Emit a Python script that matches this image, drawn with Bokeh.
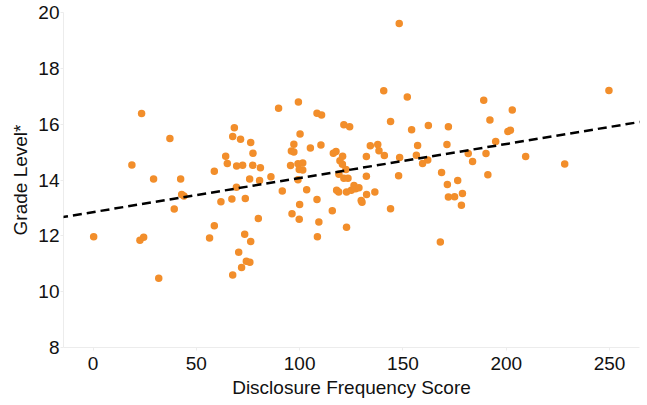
from bokeh.plotting import figure
from bokeh.models import ColumnDataSource, FixedTicker, Slope, Range1d
from bokeh.embed import file_html
from bokeh.resources import INLINE

# Data
disclosure_score = [
    0.3, 18.8, 22.7, 24.5, 23.5, 29.3, 31.8, 37.2, 39.3, 42.4, 42.9, 44.0,
    56.4, 58.7, 58.7, 61.9, 64.2, 65.0, 67.2, 67.6, 67.6, 68.4, 69.4, 69.5,
    70.5, 71.4, 71.9, 72.4, 73.4, 73.7, 74.2, 75.8, 75.9, 76.3, 76.3, 77.3,
    77.4, 80.0, 80.6, 81.0, 86.1, 89.8, 91.6, 95.6, 96.0, 96.3, 97.2, 97.2,
    99.2, 99.2, 99.4, 99.8, 99.8, 100.0, 100.2, 101.5, 101.5, 103.4, 105.2,
    108.4, 108.4, 108.6, 109.3, 110.3, 110.6, 115.8, 116.3, 117.6, 117.9,
    118.9, 119.0, 119.5, 120.7, 120.8, 121.4, 121.4, 122.4, 122.7, 122.7,
    123.4, 124.2, 125.0, 126.3, 127.1, 128.7, 129.8, 130.2, 132.3, 132.3,
    132.4, 134.2, 136.4, 137.8, 138.4, 140.7, 141.0, 144.0, 144.0, 147.9,
    148.2, 148.4, 152.1, 154.2, 156.5, 157.1, 159.5, 162.0, 162.3, 168.1,
    168.7, 171.3, 171.5, 172.0, 172.0, 175.0, 176.5, 178.3, 178.8, 181.6,
    183.7, 189.1, 190.2, 191.1, 192.1, 194.9, 200.8, 202.0, 202.9, 209.4,
    228.3, 249.7,
]
grade_level = [
    11.97, 14.54, 11.84, 11.95, 16.38, 14.04, 10.48, 15.49, 12.96, 14.04, 13.48, 13.43,
    11.92, 12.36, 14.31, 13.22, 14.85, 14.59, 13.32, 15.56, 10.60, 15.87, 13.74, 14.50,
    11.41, 15.46, 10.87, 14.53, 12.06, 13.34, 11.09, 14.04, 11.05, 15.34, 11.80, 14.53,
    14.96, 12.62, 13.98, 14.44, 14.12, 16.57, 13.61, 14.52, 15.04, 12.79, 15.28, 15.00,
    14.58, 14.01, 16.79, 14.38, 12.59, 13.12, 15.65, 14.61, 14.36, 13.65, 15.15,
    16.39, 13.30, 11.97, 12.50, 15.25, 16.33, 12.90, 14.96, 15.02, 13.63,
    13.57, 14.21, 14.69, 14.56, 14.85, 15.98, 14.06, 14.38, 13.57, 12.31,
    14.06, 15.91, 13.63, 13.80, 13.69, 13.72, 13.27, 13.20, 14.84, 14.13,
    13.48, 15.23, 13.57, 15.27, 15.05, 17.20, 14.88, 16.10, 12.97, 14.15,
    19.61, 14.81, 16.97, 15.80, 14.89, 15.24, 14.59, 14.72, 15.95, 11.78,
    14.27, 15.27, 13.84, 15.91, 13.39, 13.40, 13.98, 13.10, 13.52, 14.95,
    14.66, 16.86, 14.95, 14.19, 16.15, 15.38, 15.74, 15.78, 16.51, 14.84,
    14.57, 17.21,
]
x_ticks = [0, 50, 100, 150, 200, 250]
y_ticks = [8, 10, 12, 14, 16, 18, 20]
trend_intercept = 12.85
trend_slope = 0.0122

source = ColumnDataSource(data=dict(x=disclosure_score, y=grade_level))

FONT = "Liberation Sans"
TEXT = "#111111"
FAINT = "#ECECEC"

p = figure(
    width=640, height=405,
    x_range=Range1d(-14.3, 264.5), y_range=Range1d(8, 20),
    output_backend="svg", toolbar_location=None,
    min_border_left=63, min_border_right=1, min_border_top=12, min_border_bottom=58,
)
p.outline_line_color = None
p.background_fill_color = "white"
p.border_fill_color = "white"
p.xgrid.grid_line_color = None
p.ygrid.grid_line_color = None

p.scatter("x", "y", source=source, size=7.5, fill_color="#F28E2B", line_color=None)

p.add_layout(Slope(gradient=trend_slope, y_intercept=trend_intercept,
                   line_color="black", line_width=2.5, line_dash="9 5"))

for ax in (p.xaxis[0], p.yaxis[0]):
    ax.axis_line_color = FAINT
    ax.major_tick_line_color = FAINT
    ax.minor_tick_line_color = None
    ax.major_tick_in = 0
    ax.major_tick_out = 3
    ax.major_label_text_font = FONT
    ax.major_label_text_font_size = "19px"
    ax.major_label_text_color = TEXT
    ax.axis_label_text_font = FONT
    ax.axis_label_text_font_size = "19px"
    ax.axis_label_text_font_style = "normal"
    ax.axis_label_text_color = TEXT

p.xaxis.ticker = FixedTicker(ticks=x_ticks)
p.yaxis.ticker = FixedTicker(ticks=y_ticks)
p.xaxis.axis_label = "Disclosure Frequency Score"
p.yaxis.axis_label = "Grade Level*"
p.xaxis.major_label_standoff = 6
p.xaxis.axis_label_standoff = 4
p.yaxis.major_label_standoff = 1
p.yaxis.axis_label_standoff = 4

open("out.html", "w").write(file_html(p, INLINE))
